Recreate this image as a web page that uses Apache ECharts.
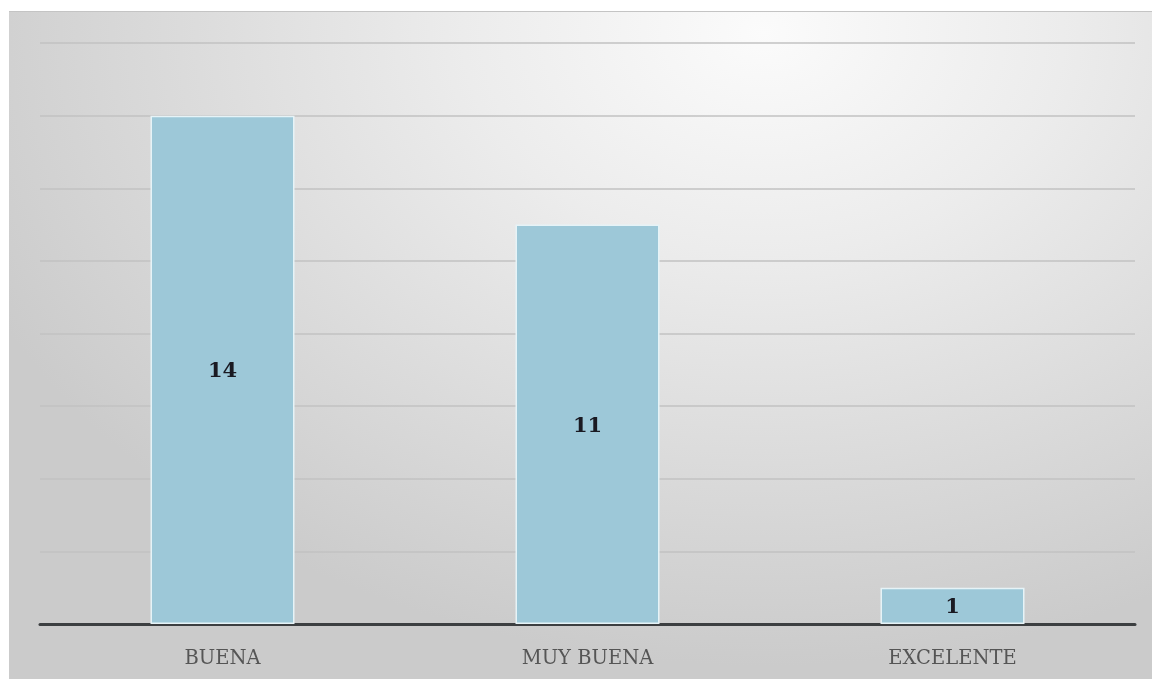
<!DOCTYPE html>
<html>
<head>
<meta charset="utf-8">
<script src="https://cdn.jsdelivr.net/npm/echarts@6/dist/echarts.min.js"></script>
<style>
html,body{margin:0;padding:0;background:#fff;width:1152px;height:679px;overflow:hidden;}
#panel{position:absolute;left:9px;top:11px;width:1143px;height:668px;
 background:radial-gradient(ellipse 75% 95% at 66% 3%, #fbfbfb 0%, #ececec 35%, #dadada 70%, #cbcbcb 100%);
 border-top:1px solid #c4c4c4;box-sizing:border-box;}
#chart{position:absolute;left:0;top:0;width:1143px;height:668px;}
</style>
</head>
<body>
<div id="panel"><div id="chart"></div></div>
<script>
const categories = ["BUENA", "MUY BUENA", "EXCELENTE"];
const values = [14, 11, 1];
const yMin = 0, yMax = 16, yInterval = 2;

const chart = echarts.init(document.getElementById('chart'), null, {renderer:'canvas'});
chart.setOption({
  backgroundColor: 'transparent',
  animation: false,
  grid: {left: 31, right: 17, top: 31, bottom: 56, containLabel: false},
  xAxis: {
    type: 'category',
    data: categories,
    axisLine: {show: true, lineStyle: {color: '#3c3f41', width: 3}},
    axisTick: {show: false},
    axisLabel: {color: '#555555', fontFamily: 'DejaVu Serif', fontSize: 19.5, margin: 25}
  },
  yAxis: {
    type: 'value',
    min: yMin, max: yMax, interval: yInterval,
    axisLine: {show: false},
    axisTick: {show: false},
    axisLabel: {show: false},
    splitLine: {lineStyle: {color: '#c2c2c2', width: 1.5}}
  },
  series: [{
    type: 'bar',
    data: values,
    barWidth: 144,
    itemStyle: {color: '#9dc8d8', borderColor: '#e6f3f7', borderWidth: 1.5},
    label: {
      show: true, position: 'inside', offset: [0, 2],
      color: '#1a1a22', fontFamily: 'DejaVu Serif', fontWeight: 'bold', fontSize: 21
    }
  }]
});
</script>
</body>
</html>
